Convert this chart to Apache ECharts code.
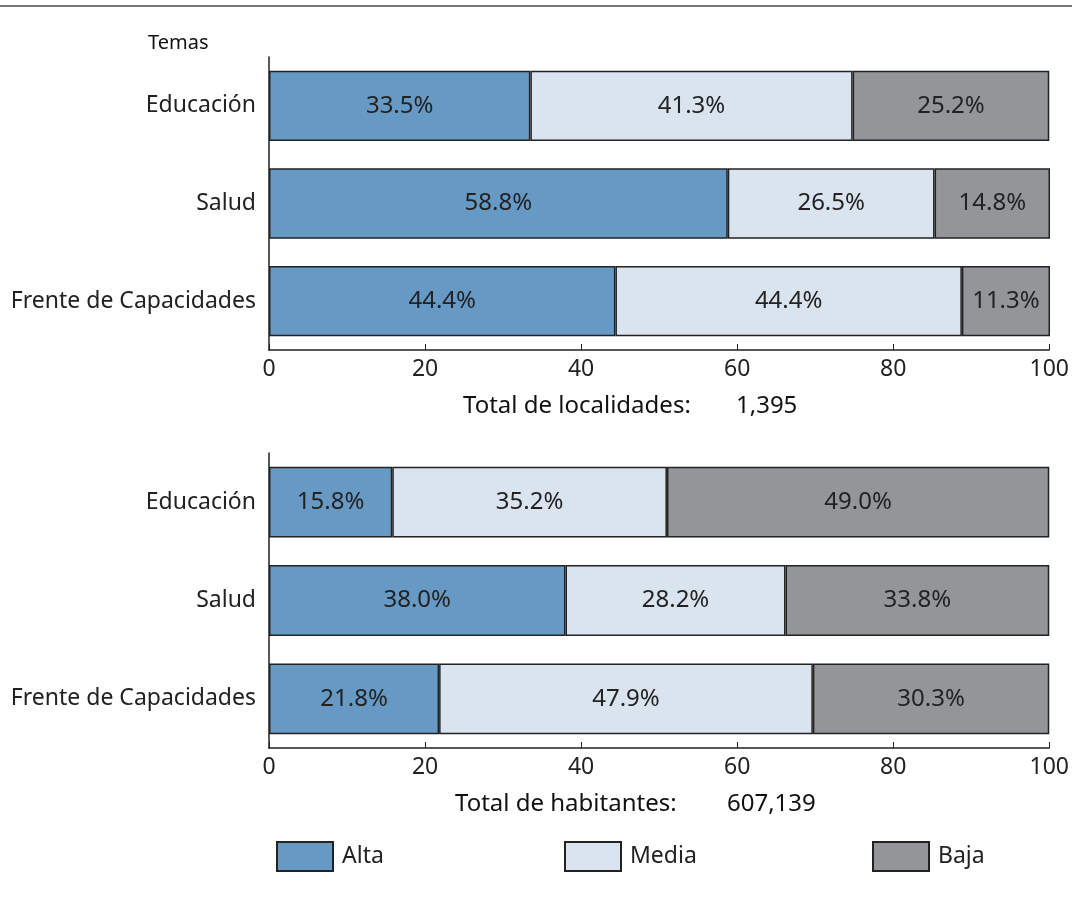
<!DOCTYPE html>
<html>
<head>
<meta charset="utf-8">
<script src="https://cdn.jsdelivr.net/npm/echarts@6/dist/echarts.min.js"></script>
<style>html,body{margin:0;padding:0;background:#fff}#c{width:1072px;height:899px}</style>
</head>
<body>
<div id="c"></div>
<script>
const categories = ['Educación', 'Salud', 'Frente de Capacidades'];
const seriesNames = ['Alta', 'Media', 'Baja'];
const loc_alta = [33.5, 58.8, 44.4];
const loc_media = [41.3, 26.5, 44.4];
const loc_baja = [25.2, 14.8, 11.3];
const hab_alta = [15.8, 38.0, 21.8];
const hab_media = [35.2, 28.2, 47.9];
const hab_baja = [49.0, 33.8, 30.3];
const xTicks = [0, 20, 40, 60, 80, 100];
const colors = ['#6699c4', '#d9e4ef', '#949598'];
const FONT = 'Noto Sans';

const chart = echarts.init(document.getElementById('c'));
function mkSeries(name, data, idx, color) {
  return {
    name: name, type: 'bar', stack: 's' + idx, xAxisIndex: idx, yAxisIndex: idx,
    data: data, barWidth: '72%',
    itemStyle: { color: color, borderColor: '#222', borderWidth: 1.5 },
    label: { show: true, position: 'inside', fontFamily: FONT, fontSize: 24, color: '#222',
      formatter: p => p.value.toFixed(1) + '%' },
    emphasis: { disabled: true }, animation: false
  };
}
const xAx = (gi) => ({
  gridIndex: gi, type: 'value', min: 0, max: 100, interval: 20,
  axisLine: { show: true, lineStyle: { color: '#222', width: 1.5 } },
  axisTick: { show: true, inside: true, length: 6, lineStyle: { color: '#222' } },
  splitLine: { show: false },
  axisLabel: { fontFamily: FONT, fontSize: 23, color: '#222', margin: 8,
    formatter: v => xTicks.includes(v) ? String(v) : '' }
});
const yAx = (gi) => ({
  gridIndex: gi, type: 'category', data: categories, inverse: true,
  axisLine: { show: true, lineStyle: { color: '#222', width: 1.5 } },
  axisTick: { show: false },
  axisLabel: { fontFamily: FONT, fontSize: 23, color: '#222', margin: 13 }
});
const legendItem = (name, left) => ({
  data: [name], left: left, top: 836, itemWidth: 56, itemHeight: 29, itemGap: 0,
  icon: 'rect', selectedMode: false,
  textStyle: { fontFamily: FONT, fontSize: 23, color: '#222', padding: [0, 0, 0, 4] }
});
chart.setOption({
  animation: false,
  grid: [
    { left: 269, right: 22, top: 57, height: 293 },
    { left: 269, right: 22, top: 453, height: 295 }
  ],
  xAxis: [xAx(0), xAx(1)],
  yAxis: [yAx(0), yAx(1)],
  legend: [legendItem('Alta', 271), legendItem('Media', 559), legendItem('Baja', 867)],
  series: [
    mkSeries('Alta', loc_alta, 0, colors[0]),
    mkSeries('Media', loc_media, 0, colors[1]),
    mkSeries('Baja', loc_baja, 0, colors[2]),
    mkSeries('Alta', hab_alta, 1, colors[0]),
    mkSeries('Media', hab_media, 1, colors[1]),
    mkSeries('Baja', hab_baja, 1, colors[2])
  ],
  graphic: [
    { type: 'line', shape: { x1: 0, y1: 6, x2: 1072, y2: 6 }, style: { stroke: '#777', lineWidth: 2 } },
    { type: 'text', left: 148, top: 33, style: { text: 'Temas', fontFamily: FONT, fontSize: 20, fill: '#111' } },
    { type: 'text', left: 463, top: 394, style: { text: 'Total de localidades:', fontFamily: FONT, fontSize: 24, fill: '#111' } },
    { type: 'text', left: 736, top: 394, style: { text: '1,395', fontFamily: FONT, fontSize: 24, fill: '#111' } },
    { type: 'text', left: 455, top: 792, style: { text: 'Total de habitantes:', fontFamily: FONT, fontSize: 24, fill: '#111' } },
    { type: 'text', left: 727, top: 792, style: { text: '607,139', fontFamily: FONT, fontSize: 24, fill: '#111' } }
  ]
});
</script>
</body>
</html>
